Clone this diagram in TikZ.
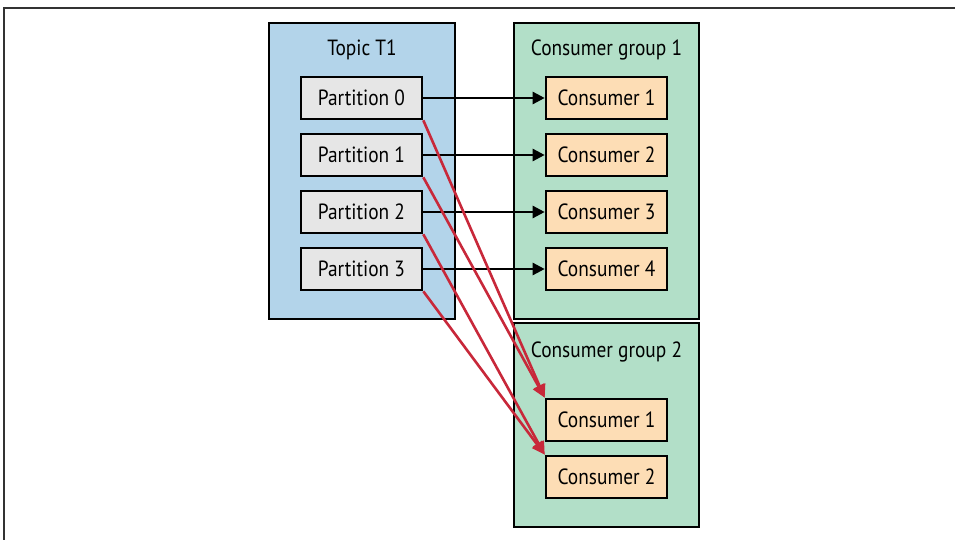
\documentclass[tikz,border=0pt]{standalone}
\usepackage{fontspec}
\setmainfont[FakeStretch=0.88]{PT Sans}
\usetikzlibrary{arrows.meta}
\definecolor{topicblue}{HTML}{B3D4EA}
\definecolor{groupgreen}{HTML}{B2DFC8}
\definecolor{partgray}{HTML}{E6E6E6}
\definecolor{consorange}{HTML}{FDDDB5}
\definecolor{arrowred}{HTML}{C8283A}
\tikzset{
  container/.style={draw=black, line width=2.6pt, minimum width=#1, inner sep=0pt},
  partbox/.style={draw=black, line width=2.6pt, fill=partgray, minimum width=121pt, minimum height=42pt, inner sep=0pt, font=\fontsize{22}{25}\selectfont},
  consbox/.style={draw=black, line width=2.6pt, fill=consorange, minimum width=121pt, minimum height=42pt, inner sep=0pt, font=\fontsize{22}{25}\selectfont},
  label/.style={font=\fontsize{22}{25}\selectfont, inner sep=0pt},
  blackarrow/.style={draw=black, line width=2.4pt, -{Triangle[length=12pt,width=12pt]}},
  redarrow/.style={draw=arrowred, line width=2.6pt, -{Triangle[length=13pt,width=12pt]}},
  frameline/.style={draw=black!80, line width=1.2pt}
}
\begin{document}
\begin{tikzpicture}[x=1pt,y=-1pt]
\useasboundingbox (0,0) rectangle (955,540);
\coordinate (f1) at (955,8);
\coordinate (f2) at (4,8);
\coordinate (f3) at (4,540);
\draw[frameline] (f1) -- (f2) -- (f3);
% containers
\node[container=186pt, minimum height=296pt, fill=topicblue] (topic) at (362,171) {};
\node[container=185pt, minimum height=296pt, fill=groupgreen] (cg1) at (606.5,171) {};
\node[container=185pt, minimum height=204pt, fill=groupgreen] (cg2) at (606.5,425) {};
\node[label] (tl) at (362,50) {Topic T1};
\node[label] (g1l) at (606.5,50) {Consumer group 1};
\node[label] (g2l) at (606.5,352) {Consumer group 2};
% partitions
\node[partbox] (p0) at (361.5,98) {Partition 0};
\node[partbox] (p1) at (361.5,155) {Partition 1};
\node[partbox] (p2) at (361.5,212) {Partition 2};
\node[partbox] (p3) at (361.5,269) {Partition 3};
% consumers group 1
\node[consbox] (a1) at (606.5,98) {Consumer 1};
\node[consbox] (a2) at (606.5,155) {Consumer 2};
\node[consbox] (a3) at (606.5,212) {Consumer 3};
\node[consbox] (a4) at (606.5,269) {Consumer 4};
% consumers group 2
\node[consbox] (b1) at (606.5,420) {Consumer 1};
\node[consbox] (b2) at (606.5,477) {Consumer 2};
% black arrows
\draw[blackarrow] (p0.east) -- (a1.west);
\draw[blackarrow] (p1.east) -- (a2.west);
\draw[blackarrow] (p2.east) -- (a3.west);
\draw[blackarrow] (p3.east) -- (a4.west);
% red arrows
\draw[redarrow] (p0.south east) -- (b1.north west);
\draw[redarrow] (p1.south east) -- (b1.north west);
\draw[redarrow] (p2.south east) -- (b2.north west);
\draw[redarrow] (p3.south east) -- (b2.north west);
\end{tikzpicture}
\end{document}
